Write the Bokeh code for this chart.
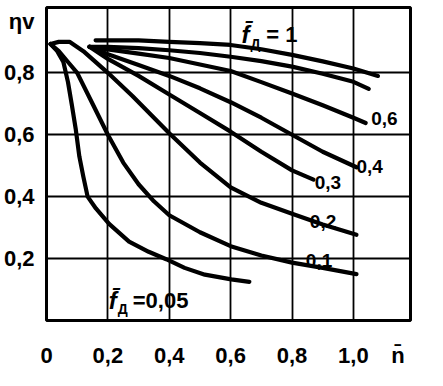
from bokeh.plotting import figure
from bokeh.models import Range1d, FixedTicker, Label
from bokeh.embed import file_html
from bokeh.resources import INLINE

# ---- data ----
x_ticks = [0, 0.2, 0.4, 0.6, 0.8, 1.0]
x_tick_labels = ["0", "0,2", "0,4", "0,6", "0,8", "1,0"]
y_ticks = [0.2, 0.4, 0.6, 0.8]
y_tick_labels = ["0,2", "0,4", "0,6", "0,8"]
x_title = "n\u0304"   # n-bar, printed at the end of the tick row
y_title = "ηv"        # printed at the top of the tick column
x_title_pos = 1.145
y_title_pos = 0.966

# f_D = 0.05
n_005 = [0.013, 0.035, 0.055, 0.07, 0.082, 0.095, 0.107, 0.12, 0.134, 0.161, 0.204, 0.269, 0.333, 0.39, 0.45, 0.516, 0.602, 0.661]
eta_005 = [0.893, 0.87, 0.835, 0.77, 0.70, 0.62, 0.53, 0.465, 0.40, 0.362, 0.312, 0.255, 0.222, 0.198, 0.17, 0.148, 0.133, 0.125]
# f_D = 0.1
n_01 = [0.013, 0.04, 0.07, 0.10, 0.15, 0.2, 0.25, 0.3, 0.35, 0.4, 0.5, 0.6, 0.7, 0.8, 0.9, 1.01]
eta_01 = [0.893, 0.87, 0.835, 0.80, 0.70, 0.60, 0.51, 0.44, 0.385, 0.34, 0.285, 0.24, 0.21, 0.187, 0.17, 0.15]
# f_D = 0.2
n_02 = [0.013, 0.04, 0.075, 0.12, 0.2, 0.28, 0.4, 0.5, 0.6, 0.7, 0.8, 0.9, 1.01]
eta_02 = [0.893, 0.90, 0.90, 0.87, 0.80, 0.725, 0.605, 0.51, 0.43, 0.38, 0.345, 0.31, 0.277]
# f_D = 0.3
n_03 = [0.14, 0.2, 0.3, 0.4, 0.5, 0.6, 0.7, 0.8, 0.87]
eta_03 = [0.884, 0.845, 0.79, 0.73, 0.67, 0.61, 0.545, 0.485, 0.455]
# f_D = 0.4
n_04 = [0.14, 0.2, 0.3, 0.4, 0.5, 0.6, 0.7, 0.8, 0.9, 1.01]
eta_04 = [0.884, 0.86, 0.825, 0.79, 0.75, 0.705, 0.655, 0.60, 0.545, 0.495]
# f_D = 0.6
n_06 = [0.14, 0.2, 0.3, 0.4, 0.5, 0.6, 0.7, 0.8, 0.9, 1.0, 1.04]
eta_06 = [0.884, 0.876, 0.862, 0.848, 0.827, 0.806, 0.77, 0.733, 0.695, 0.655, 0.638]
# unlabelled curve between 0.6 and 1
n_mid = [0.14, 0.2, 0.3, 0.4, 0.5, 0.6, 0.7, 0.8, 0.9, 1.0, 1.05]
eta_mid = [0.884, 0.884, 0.88, 0.873, 0.864, 0.852, 0.838, 0.82, 0.797, 0.771, 0.748]
# f_D = 1
n_1 = [0.16, 0.3, 0.4, 0.5, 0.6, 0.7, 0.8, 0.9, 1.0, 1.08]
eta_1 = [0.905, 0.905, 0.90, 0.896, 0.89, 0.876, 0.858, 0.837, 0.814, 0.79]

curves = [(n_005, eta_005), (n_01, eta_01), (n_02, eta_02), (n_03, eta_03),
          (n_04, eta_04), (n_06, eta_06), (n_mid, eta_mid), (n_1, eta_1)]

# curve end labels: (text, n, eta)
end_labels = [("0,6", 1.058, 0.653), ("0,4", 1.01, 0.497), ("0,3", 0.874, 0.446),
              ("0,2", 0.858, 0.321), ("0,1", 0.845, 0.194)]

FONT = "Liberation Sans"

p = figure(width=427, height=370, x_range=Range1d(0, 1.186), y_range=Range1d(0, 1.011),
           output_backend="svg", toolbar_location=None,
           min_border_left=42, min_border_right=17, min_border_top=7, min_border_bottom=47)
p.background_fill_color = "white"
p.border_fill_color = "white"
p.outline_line_color = "black"
p.outline_line_width = 3

for ax in (p.xaxis, p.yaxis):
    ax.axis_line_color = None
    ax.major_tick_line_color = None
    ax.minor_tick_line_color = None
    ax.major_label_text_font = FONT
    ax.major_label_text_font_style = "bold"
    ax.major_label_text_font_size = "22px"
    ax.major_label_text_color = "black"

xl = dict(zip(x_ticks, x_tick_labels))
xl[x_title_pos] = x_title
yl = dict(zip(y_ticks, y_tick_labels))
yl[y_title_pos] = y_title

p.xaxis.ticker = FixedTicker(ticks=x_ticks + [x_title_pos])
p.xaxis.major_label_overrides = xl
p.xaxis.major_label_standoff = 16
p.yaxis.ticker = FixedTicker(ticks=y_ticks + [y_title_pos])
p.yaxis.major_label_overrides = yl
p.yaxis.major_label_standoff = 6

p.xgrid.ticker = FixedTicker(ticks=[0.2, 0.4, 0.6, 0.8, 1.0])
p.ygrid.ticker = FixedTicker(ticks=y_ticks)
for g in (p.xgrid, p.ygrid):
    g.grid_line_color = "black"
    g.grid_line_width = 1.8
    g.grid_line_alpha = 1.0

for xs, ys in curves:
    p.line(xs, ys, line_color="black", line_width=4.2, line_join="round", line_cap="round")

for txt, xx, yy in end_labels:
    p.add_layout(Label(x=xx, y=yy, text=txt, text_font=FONT, text_font_style="bold",
                       text_font_size="19px", text_baseline="middle", text_align="left",
                       text_color="black"))

def lab(x, y, text, size, style):
    p.add_layout(Label(x=x, y=y, text=text, text_font=FONT, text_font_style=style,
                       text_font_size=size, text_baseline="alphabetic", text_color="black"))

# f_D = 1 label
lab(0.635, 0.925, "f\u0304", "24px", "bold italic")
lab(0.665, 0.892, "Д", "14px", "bold")
lab(0.716, 0.925, "= 1", "22px", "bold")
# f_D = 0.05 label
lab(0.203, 0.063, "f\u0304", "24px", "bold italic")
lab(0.232, 0.037, "Д", "14px", "bold")
lab(0.281, 0.063, "=0,05", "22px", "bold")

open("out.html", "w").write(file_html(p, INLINE))
